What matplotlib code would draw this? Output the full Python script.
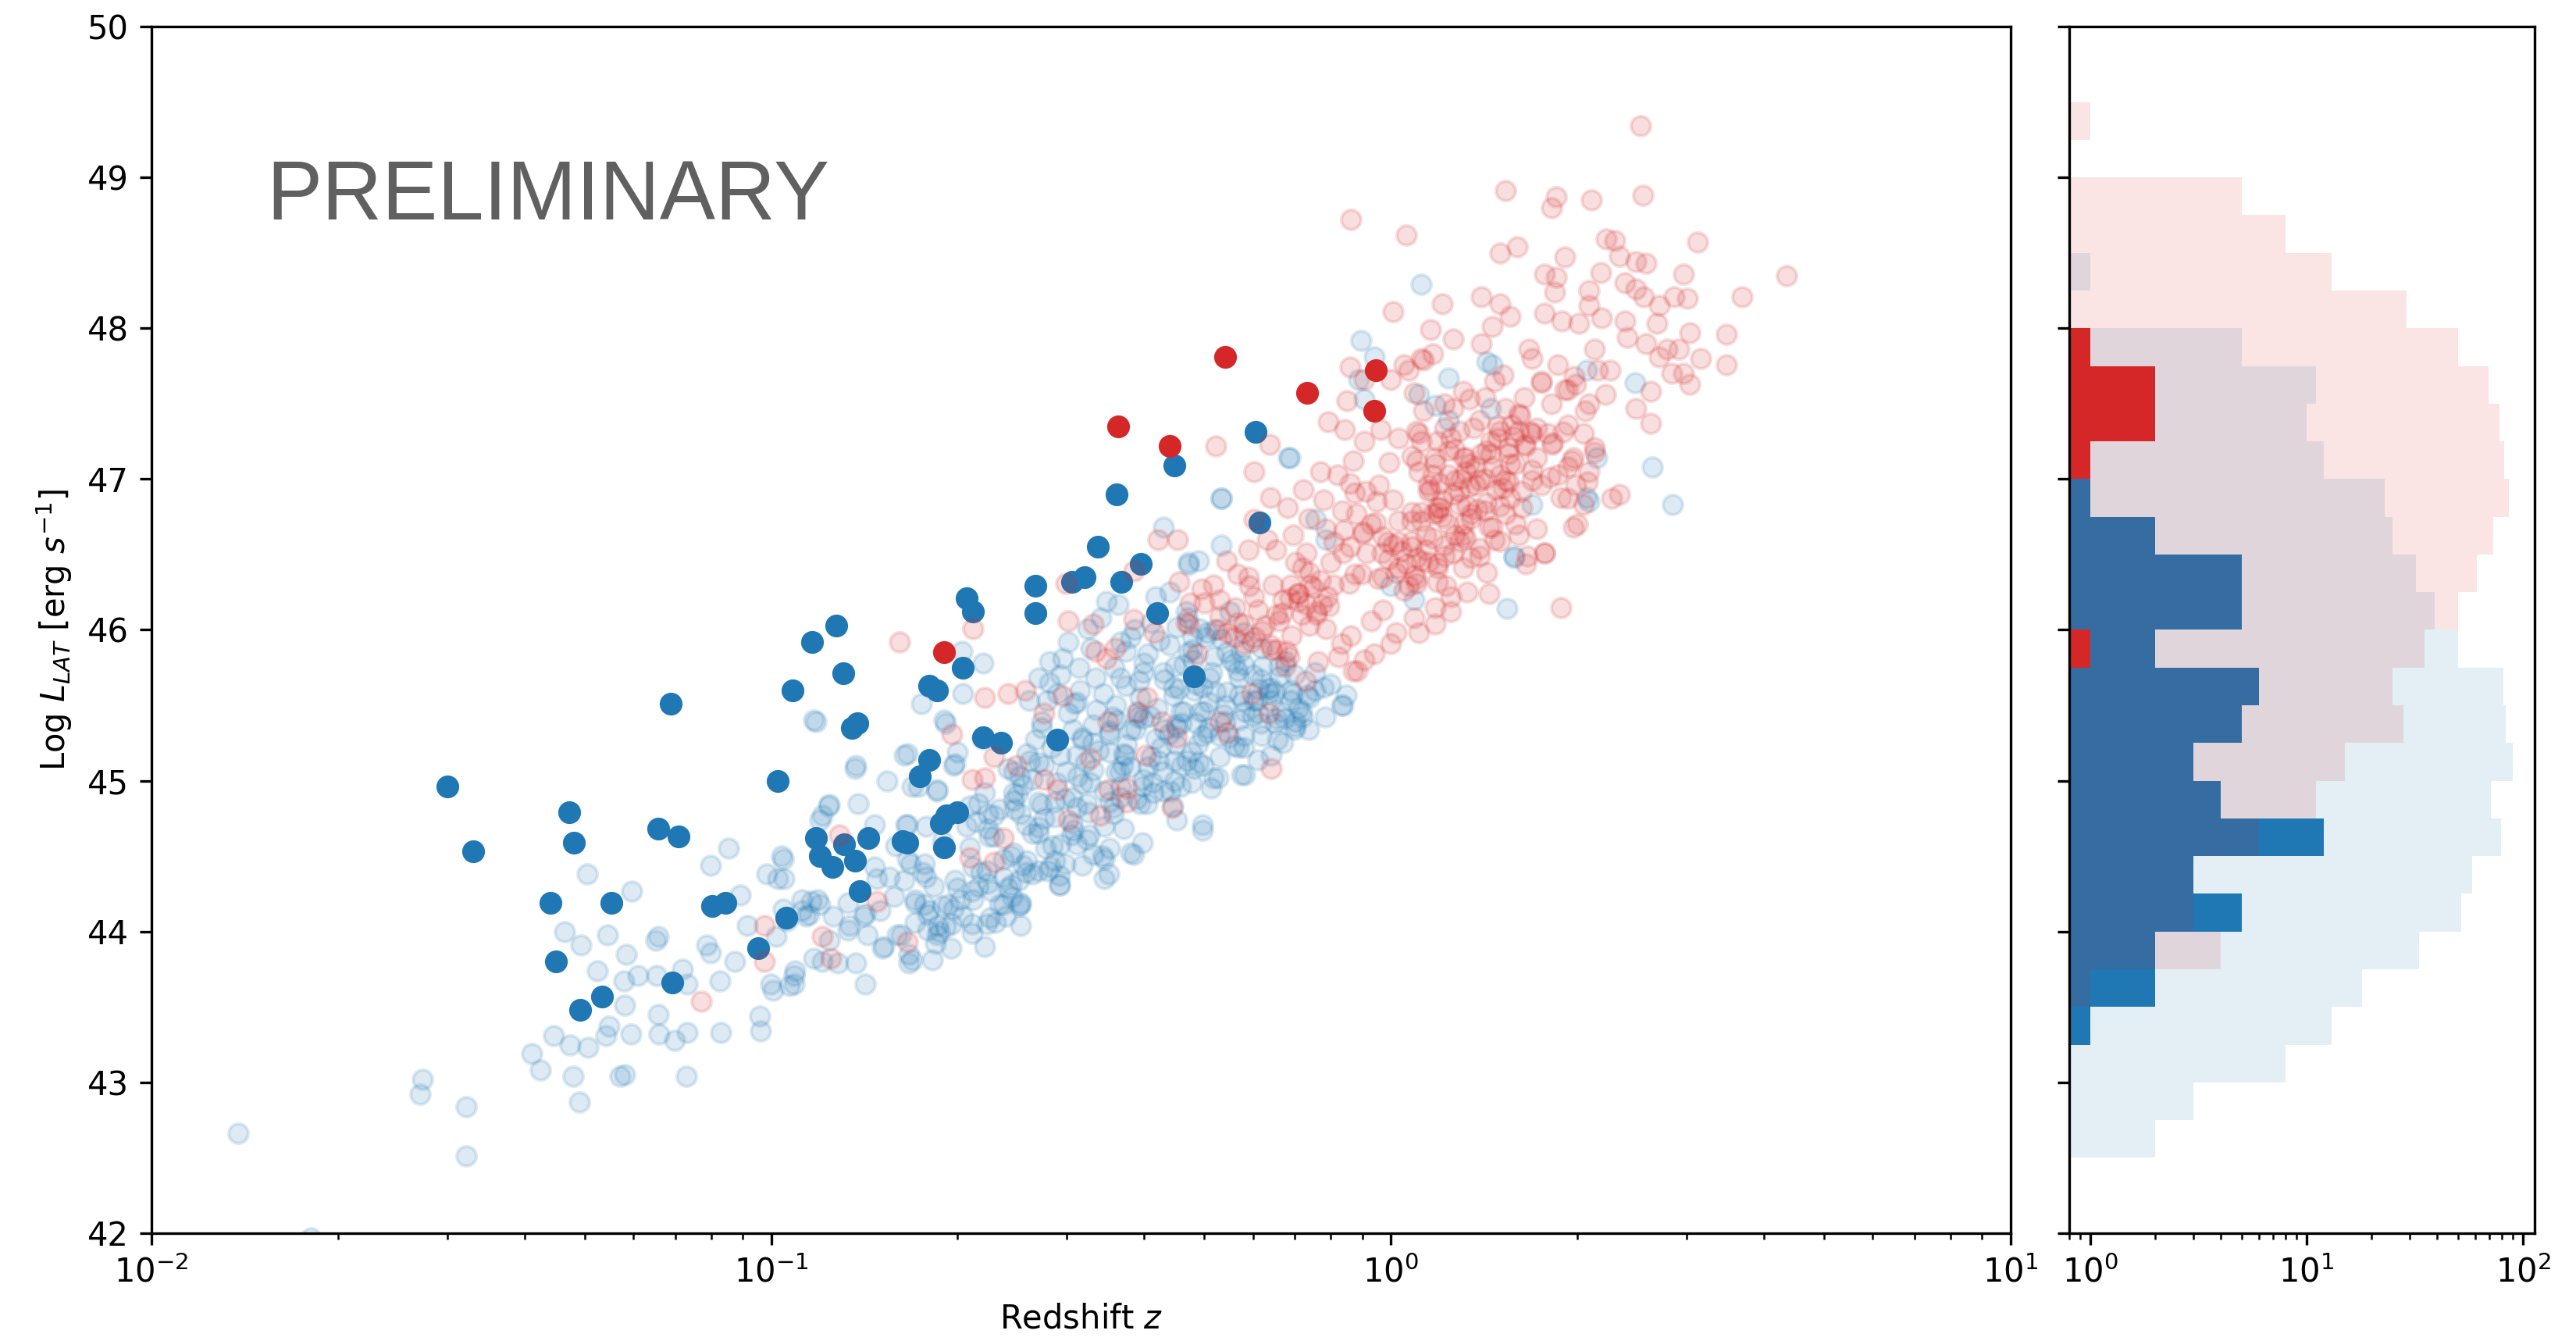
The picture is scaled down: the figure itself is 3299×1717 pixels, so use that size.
import numpy as np
import matplotlib
matplotlib.use('Agg')
import matplotlib.pyplot as plt

# ---- faint blue sample (redshift, log L) ----
fb_z = [
    0.0138, 0.0181, 0.0274, 0.0271, 0.0322, 0.0322, 0.0411, 0.0424, 0.0446, 0.0474,
    0.0479, 0.0491, 0.0507, 0.0464, 0.0494, 0.0505, 0.0525, 0.0541, 0.0547, 0.0545,
    0.0570, 0.0581, 0.0583, 0.0579, 0.0580, 0.0594, 0.0596, 0.0609, 0.0651, 0.0657,
    0.0654, 0.0657, 0.0660, 0.0698, 0.0720, 0.0731, 0.0733, 0.0729, 0.0799, 0.0853,
    0.0788, 0.0798, 0.0826, 0.0830, 0.0891, 0.0873, 0.0916, 0.0958, 0.0962, 0.0984,
    0.1025, 0.1045, 0.1047, 0.0998, 0.1008, 0.1018, 0.1094, 0.1088, 0.1138, 0.1160,
    0.1209, 0.1199, 0.1237, 0.1180, 0.1368, 0.1383,
    0.117, 0.137, 0.154, 0.164, 0.173, 0.185, 0.198, 0.191, 0.124, 0.121,
    0.147, 0.166, 0.104, 0.105, 0.112, 0.115, 0.120, 0.134, 0.142, 0.148,
    0.164, 0.177, 0.159, 0.189, 0.198, 0.202, 0.216, 0.211, 0.196, 0.189,
    0.179, 0.187, 0.162, 0.152, 0.142, 0.137, 0.128, 0.117, 0.109, 0.107,
    0.167, 0.177, 0.234, 0.237, 0.224, 0.250, 0.253, 0.216, 0.229, 0.209,
    0.270, 0.285, 0.298, 0.280, 0.292, 0.308, 0.264, 0.253, 0.244, 0.345,
    0.345, 0.385, 0.326, 0.357, 0.394, 0.430, 0.497, 0.497, 0.445, 0.481,
    0.526, 0.574, 0.642, 0.702, 0.710, 0.838, 0.847, 0.734, 0.568, 0.513,
    0.399, 0.371, 0.418, 0.447, 0.488, 0.541, 0.581, 0.655, 0.365, 0.327,
    0.306, 0.273, 0.262, 0.246, 0.284, 0.318, 0.356, 0.390, 0.446, 0.486,
    0.569, 0.635, 0.273, 0.219, 0.204, 0.261, 0.311, 0.366, 0.398,
    0.175, 0.190, 0.203, 0.220, 0.166, 0.197, 0.200, 0.185, 0.169, 0.165,
    0.178, 0.166, 0.176, 0.183, 0.171, 0.186, 0.167, 0.211, 0.211, 0.197,
    0.237, 0.251, 0.251, 0.237, 0.218, 0.209, 0.225, 0.214, 0.207, 0.234,
    0.246, 0.255, 0.241, 0.259, 0.267, 0.273, 0.279, 0.270, 0.281, 0.296,
    0.302, 0.324, 0.348, 0.363, 0.341, 0.417, 0.290, 0.302, 0.315, 0.334,
    0.358, 0.374, 0.405, 0.423, 0.449, 0.478, 0.502, 0.519, 0.551, 0.566,
    0.612, 0.622, 0.676, 0.695, 0.718, 0.699, 0.641, 0.598, 0.537, 0.509,
    0.463, 0.446, 0.409, 0.394, 0.361, 0.352, 0.331, 0.318, 0.307, 0.293,
    0.312, 0.322, 0.352, 0.375, 0.387, 0.426, 0.439, 0.477, 0.497, 0.529,
    0.559, 0.611, 0.581, 0.518, 0.498, 0.469, 0.429, 0.413, 0.381, 0.366,
    0.345, 0.318, 0.298, 0.289, 0.270, 0.287, 0.306, 0.325, 0.345, 0.357,
    0.389, 0.404, 0.441, 0.458, 0.451, 0.352, 0.323, 0.311, 0.287, 0.277,
    0.264, 0.255, 0.270, 0.292, 0.343, 0.351, 0.381, 0.371, 0.397, 0.245,
    0.253, 0.226,
    0.533, 0.684, 0.942, 1.54, 1.58, 2.07, 0.490, 0.472, 0.533, 0.506,
    0.472, 0.464, 0.544, 0.580, 0.618, 0.651, 0.690, 0.702, 0.834, 0.799,
    0.754, 0.602, 0.544, 0.493, 0.452, 1.00, 1.09, 1.18, 1.43, 1.45,
    0.906, 0.785, 0.756, 1.12, 2.48, 2.64, 2.85, 2.09, 1.69, 1.58,
    1.24, 1.11, 1.46, 2.07, 2.15, 1.24, 0.687, 0.532, 0.430, 0.471,
    0.895, 0.887,
    0.467, 0.491, 0.533, 0.573, 0.514, 0.481, 0.578, 0.634, 0.666, 0.737,
    0.784, 0.754, 0.458, 0.506,
    0.314, 0.328, 0.366, 0.386, 0.452, 0.479, 0.281, 0.293, 0.309, 0.335,
    0.344, 0.374, 0.393, 0.431, 0.455, 0.497, 0.522, 0.569, 0.608, 0.662,
    0.674, 0.657, 0.617, 0.579, 0.549, 0.509, 0.486, 0.450, 0.431, 0.398,
    0.381, 0.352, 0.338, 0.311, 0.299, 0.276, 0.270, 0.252, 0.247, 0.258,
    0.270, 0.293, 0.305, 0.331, 0.318, 0.292, 0.282, 0.259, 0.244, 0.223,
    0.227, 0.230, 0.221, 0.195, 0.184, 0.171, 0.331, 0.360, 0.373, 0.406,
    0.422, 0.459, 0.477, 0.448, 0.414, 0.397, 0.366, 0.352, 0.323, 0.311,
    0.287, 0.276,
    0.221, 0.246, 0.264, 0.224, 0.229, 0.246, 0.258, 0.212, 0.200, 0.212,
    0.224, 0.241, 0.253, 0.239, 0.223, 0.204, 0.191, 0.180, 0.185, 0.193,
    0.171, 0.178, 0.168, 0.155, 0.147, 0.158, 0.150, 0.141, 0.133, 0.126,
    0.119, 0.112, 0.106, 0.124, 0.133, 0.143, 0.151, 0.160, 0.169, 0.179,
    0.182,
    0.38, 0.41, 0.44, 0.47, 0.52, 0.55, 0.58, 0.62, 0.66, 0.70,
    0.40, 0.43, 0.48, 0.51, 0.56, 0.60, 0.64, 0.69, 0.74, 0.78,
    0.36, 0.39, 0.42, 0.46, 0.50, 0.54, 0.57, 0.61, 0.65, 0.72,
    0.33, 0.37, 0.41, 0.45, 0.49, 0.53, 0.58, 0.62, 0.67, 0.44,
]
fb_L = [
    42.66, 41.97, 43.02, 42.92, 42.84, 42.51, 43.19, 43.08, 43.31, 43.25,
    43.04, 42.87, 43.23, 44.00, 43.91, 44.38, 43.74, 43.31, 43.37, 43.98,
    43.04, 43.05, 43.85, 43.67, 43.51, 43.32, 44.27, 43.71, 43.94, 43.97,
    43.71, 43.45, 43.32, 43.28, 43.75, 43.65, 43.33, 43.04, 44.44, 44.55,
    43.91, 43.86, 43.67, 43.33, 44.24, 43.80, 44.04, 43.44, 43.34, 44.38,
    44.35, 44.48, 44.15, 43.65, 43.61, 43.97, 43.74, 43.65, 44.10, 44.20,
    43.80, 44.74, 44.83, 45.39, 45.08, 44.85,
    45.40, 45.10, 45.00, 45.17, 44.96, 44.93, 45.11, 45.38, 44.84, 44.77,
    44.71, 44.71, 44.50, 44.35, 44.21, 44.11, 44.18, 44.04, 44.12, 44.35,
    44.34, 44.45, 44.57, 44.60, 44.34, 44.21, 44.30, 44.05, 44.05, 44.17,
    44.11, 44.00, 43.98, 43.90, 43.65, 43.79, 43.79, 43.82, 43.71, 43.64,
    43.79, 44.18, 44.18, 44.48, 44.68, 44.91, 44.78, 44.85, 44.77, 44.83,
    44.65, 44.57, 44.45, 44.40, 44.31, 44.67, 44.38, 44.18, 44.31, 44.48,
    44.35, 44.51, 44.64, 44.78, 44.85, 44.93, 44.71, 44.67, 44.83, 45.08,
    45.02, 45.04, 45.17, 45.36, 45.48, 45.50, 45.57, 45.57, 45.22, 44.95,
    45.01, 45.18, 45.28, 45.13, 45.24, 45.39, 45.46, 45.41, 45.06, 44.99,
    44.89, 44.84, 45.13, 45.06, 45.22, 45.29, 45.42, 45.46, 45.62, 45.64,
    45.68, 45.58, 45.35, 45.28, 45.58, 45.53, 45.52, 45.68, 45.72,
    45.51, 45.40, 45.86, 45.78, 45.18, 45.10, 45.19, 44.94, 44.96, 44.71,
    44.70, 44.48, 44.39, 44.30, 44.19, 44.04, 43.85, 43.99, 44.27, 44.15,
    44.18, 44.17, 44.34, 44.36, 44.39, 44.56, 44.63, 44.73, 44.70, 44.81,
    44.92, 44.97, 45.08, 45.18, 45.27, 45.39, 45.53, 45.68, 45.79, 45.81,
    45.92, 46.01, 46.19, 46.17, 46.08, 46.22, 45.58, 45.45, 45.60, 45.68,
    45.75, 45.86, 45.84, 45.93, 45.76, 45.87, 45.95, 45.82, 45.80, 45.73,
    45.61, 45.76, 45.79, 45.58, 45.46, 45.34, 45.53, 45.43, 45.44, 45.52,
    45.46, 45.56, 45.43, 45.55, 45.40, 45.33, 45.37, 45.27, 45.34, 45.17,
    45.03, 45.12, 45.19, 45.24, 45.34, 45.22, 45.31, 45.19, 45.30, 45.16,
    45.23, 45.14, 45.04, 45.02, 45.10, 45.13, 45.06, 44.99, 45.09, 44.96,
    44.93, 44.98, 44.88, 44.99, 44.86, 44.76, 44.72, 44.79, 44.70, 44.82,
    44.88, 44.85, 44.93, 44.96, 44.74, 44.55, 44.61, 44.58, 44.47, 44.55,
    44.65, 44.44, 44.40, 44.31, 44.50, 44.38, 44.52, 44.68, 44.59, 44.23,
    44.04, 44.09,
    46.87, 47.14, 47.81, 46.14, 46.48, 46.88, 46.46, 46.43, 46.56, 45.98,
    45.85, 45.77, 45.85, 45.77, 45.67, 45.59, 45.53, 45.39, 45.50, 45.64,
    45.72, 45.53, 45.59, 45.46, 45.35, 46.29, 46.20, 47.49, 47.78, 47.47,
    47.53, 46.60, 46.73, 48.29, 47.64, 47.08, 46.83, 46.85, 46.83, 46.49,
    47.67, 47.56, 47.76, 47.72, 47.14, 47.39, 47.14, 46.87, 46.68, 46.45,
    47.92, 47.66,
    46.12, 46.01, 45.94, 45.86, 45.72, 45.60, 45.53, 45.61, 45.46, 45.34,
    45.42, 45.60, 45.46, 45.32,
    45.75, 45.88, 45.92, 46.00, 46.02, 45.95, 45.65, 45.70, 45.51, 45.47,
    45.58, 45.63, 45.66, 45.67, 45.61, 45.62, 45.59, 45.57, 45.53, 45.69,
    45.41, 45.27, 45.38, 45.30, 45.29, 45.35, 45.38, 45.37, 45.34, 45.41,
    45.34, 45.31, 45.20, 45.17, 45.06, 45.10, 45.12, 45.03, 44.81, 44.71,
    44.69, 44.58, 44.64, 44.51, 44.44, 44.37, 44.43, 44.47, 44.50, 44.40,
    44.27, 44.06, 43.90, 43.89, 43.92, 44.06, 45.07, 45.06, 45.17, 45.09,
    45.13, 45.10, 44.99, 45.00, 44.92, 44.96, 44.89, 44.86, 44.85, 44.82,
    44.86, 44.75,
    44.92, 44.87, 45.01, 44.78, 44.63, 44.52, 44.39, 44.43, 44.29, 44.21,
    44.32, 44.29, 44.19, 44.10, 44.05, 44.10, 44.03, 44.14, 43.98, 44.18,
    44.21, 44.36, 44.45, 44.36, 44.43, 44.23, 44.14, 44.10, 44.19, 44.10,
    44.21, 44.14, 44.07, 43.94, 44.01, 43.98, 43.89, 43.98, 43.81, 44.01,
    43.81,
    45.95, 46.05, 45.90, 46.08, 46.00, 46.12, 45.98, 45.88, 45.76, 45.70,
    45.78, 45.72, 45.80, 45.68, 45.78, 45.70, 45.62, 45.60, 45.55, 45.62,
    45.50, 45.42, 45.48, 45.38, 45.46, 45.50, 45.40, 45.45, 45.38, 45.42,
    45.25, 45.10, 45.16, 45.24, 45.12, 45.30, 45.22, 45.30, 45.25, 46.25,
]

# ---- faint red sample ----
fr_z = [
    0.161, 0.212, 0.302, 0.331, 0.385, 0.468, 0.415, 0.359, 0.334, 0.348,
    0.221, 0.241, 0.257, 0.276, 0.296, 0.196, 0.229, 0.211, 0.221, 0.249,
    0.276, 0.290, 0.302, 0.327, 0.350, 0.389, 0.404, 0.427, 0.452, 0.529,
    0.545, 0.597, 0.635, 0.568, 0.545, 0.604, 0.655, 0.686, 0.710, 0.668,
    0.739, 0.641, 0.444, 0.351, 0.375, 0.340, 0.237, 0.229, 0.209, 0.166,
    0.375, 0.402,
    0.522, 0.602, 0.637, 0.453, 0.455, 0.496, 0.518, 0.472, 0.561, 0.602,
    0.544, 0.590, 0.633, 0.639, 0.602, 0.681, 0.723, 0.769, 0.793, 0.843,
    0.859, 0.906, 0.851, 1.00, 1.05, 1.13, 1.09, 0.962, 0.906, 0.869,
    0.822, 0.779, 0.836, 0.874, 0.958, 0.993, 1.08, 1.11, 1.22, 1.26,
    1.34, 1.47, 1.52, 1.69, 1.75, 1.91, 1.98, 2.16, 2.06, 1.90,
    1.83, 1.68, 1.62, 1.49, 1.43, 1.31, 1.27, 1.16, 1.12, 1.03,
    0.988, 0.915, 0.876, 0.809, 0.774, 0.718, 0.688, 0.645, 0.701, 0.731,
    0.955, 1.03, 1.08, 1.17, 1.21, 1.33, 1.37, 1.50, 1.55, 1.69,
    1.63, 1.50, 1.44, 1.32, 1.26, 1.19, 1.10, 1.05, 0.972, 0.931,
    0.862, 0.823, 0.764, 0.728, 0.676, 0.644, 0.597, 0.526, 0.487, 0.882,
    0.942, 1.02, 1.09, 1.18, 1.25, 1.44, 1.66, 1.77, 2.00, 1.88,
    1.81, 1.96, 2.08, 2.13, 1.25, 1.88, 1.18,
    1.53, 1.85, 1.82, 2.11, 2.55, 1.06, 1.50, 1.60, 1.91, 2.23,
    2.30, 3.13, 4.35, 1.77, 1.85, 1.84, 2.18, 2.34, 2.49, 2.58,
    2.39, 2.97, 3.69, 1.21, 1.40, 1.50, 1.77, 2.09, 2.09, 2.19,
    2.49, 2.56, 2.71, 2.87, 3.01, 3.04, 3.16, 3.48, 3.48, 2.97,
    3.04, 2.79, 2.69, 2.92, 2.39, 2.41, 2.58, 2.71, 2.84, 2.63,
    2.63, 2.49, 2.34, 2.27, 1.97, 1.93, 1.77, 1.65, 1.16, 1.26,
    1.17, 1.12, 1.07, 1.40, 1.46, 1.56, 1.67, 1.89, 2.01, 2.13,
    2.26, 2.22, 2.09, 1.99, 1.86, 1.75, 1.64, 1.53, 1.42, 1.31,
    1.22, 1.13, 1.10, 1.19, 1.29, 1.39, 1.50, 1.61, 1.72, 1.79,
    1.93, 2.05, 2.13, 1.97, 1.86, 1.69, 1.56, 1.45, 1.34, 1.24,
    1.15, 1.08, 1.19, 1.31, 1.42, 1.56, 1.59, 1.50, 1.39, 1.29,
    1.19, 1.10, 1.75, 2.05,
    2.53, 0.863, 1.01, 0.299, 0.421, 0.385, 0.0977, 0.0977, 0.0772, 0.871,
    0.129, 0.148, 0.121, 0.125,
    1.12, 1.18, 1.25, 1.32, 1.39, 1.46, 1.55, 1.59, 1.29, 1.20,
    1.12, 1.35, 1.46, 1.31, 1.22, 1.15, 1.35, 1.43, 1.08, 1.10,
    1.19, 1.53, 1.61, 1.53, 1.64, 1.72, 1.82, 1.93, 1.99, 2.09,
    1.82, 1.93, 1.69, 1.61,
    1.03, 1.10, 1.17, 1.24, 1.32, 1.40, 1.49, 1.57, 1.36, 1.19,
    1.27, 1.35, 1.43, 1.52, 1.63, 1.72, 1.47, 1.39, 1.31, 1.22,
    1.14, 1.08, 1.01, 0.947, 0.903, 0.838, 0.799, 0.741, 0.708, 0.655,
    0.627, 0.579, 0.691, 0.758, 0.794, 0.858, 0.899, 0.969, 1.03, 1.23,
    1.33, 1.11, 1.00, 0.905, 0.833, 0.785, 0.653, 0.695, 0.738, 0.785,
    0.566, 0.592, 0.530, 0.475,
    1.21, 1.26, 1.29, 1.17, 1.34, 1.24, 1.38, 1.15, 1.30, 1.20,
    0.71, 0.75, 0.73, 0.77, 0.69, 0.74, 0.79, 0.67, 0.72, 0.76,
    1.02, 1.06, 1.09, 0.99, 1.04, 1.12, 0.97, 1.07, 1.01, 1.14,
    0.86, 0.90, 0.93, 0.88, 0.95, 0.84, 0.81, 0.97, 0.91, 0.86,
    1.42, 1.48, 1.55, 1.37, 1.45, 1.58, 1.65, 1.27, 1.18, 1.11,
    0.62, 0.66, 0.58, 0.64, 0.56, 0.61, 0.53, 0.50, 0.68, 0.59,
]
fr_L = [
    45.92, 46.01, 46.06, 46.04, 46.07, 46.05, 45.98, 45.88, 45.86, 45.81,
    45.55, 45.58, 45.60, 45.45, 45.56, 45.31, 45.16, 45.01, 45.02, 45.10,
    45.01, 44.94, 44.74, 45.15, 45.39, 45.45, 45.55, 45.39, 45.29, 45.39,
    45.32, 45.58, 45.45, 46.05, 45.98, 45.95, 45.87, 45.82, 46.19, 46.11,
    46.03, 45.08, 44.82, 44.94, 44.86, 44.77, 44.62, 44.46, 44.49, 43.93,
    44.95, 45.17,
    47.22, 47.05, 47.23, 46.60, 46.32, 46.27, 46.30, 46.04, 46.15, 46.22,
    46.46, 46.53, 46.60, 46.88, 46.73, 46.81, 46.93, 47.05, 47.38, 47.33,
    47.74, 47.66, 47.52, 47.66, 47.76, 47.79, 47.57, 47.33, 47.25, 47.12,
    47.03, 46.86, 46.79, 46.91, 46.96, 47.11, 47.15, 47.30, 47.34, 47.47,
    47.53, 47.65, 47.69, 47.80, 47.64, 47.59, 47.68, 47.72, 47.45, 47.31,
    47.24, 47.31, 47.42, 47.35, 47.19, 47.14, 46.99, 46.93, 46.78, 46.72,
    46.58, 46.51, 46.37, 46.30, 46.17, 46.10, 46.21, 46.30, 46.45, 46.51,
    46.34, 46.41, 46.55, 46.61, 46.75, 46.82, 46.96, 47.03, 47.17, 47.06,
    46.92, 46.82, 46.68, 46.61, 46.51, 46.44, 46.31, 46.26, 46.13, 46.06,
    45.96, 45.82, 45.79, 45.66, 45.76, 45.87, 45.92, 46.00, 45.84, 45.73,
    45.84, 45.98, 46.08, 46.15, 46.22, 46.24, 46.49, 46.51, 46.70, 46.88,
    47.01, 47.12, 46.98, 47.18, 46.12, 46.15, 46.04,
    48.91, 48.87, 48.80, 48.85, 48.88, 48.62, 48.50, 48.54, 48.47, 48.59,
    48.58, 48.57, 48.35, 48.36, 48.34, 48.24, 48.37, 48.48, 48.44, 48.43,
    48.30, 48.36, 48.21, 48.16, 48.21, 48.16, 48.10, 48.25, 48.15, 48.07,
    48.26, 48.21, 48.15, 48.21, 48.20, 47.97, 47.80, 47.96, 47.76, 47.70,
    47.63, 47.86, 48.03, 47.86, 48.05, 47.94, 47.90, 47.81, 47.70, 47.58,
    47.37, 47.47, 46.90, 46.87, 46.68, 46.87, 46.51, 46.44, 47.99, 47.93,
    47.83, 47.80, 47.72, 47.90, 48.01, 48.08, 47.86, 48.05, 48.03, 47.86,
    47.72, 47.56, 47.50, 47.63, 47.76, 47.65, 47.54, 47.47, 47.54, 47.58,
    47.50, 47.45, 47.32, 47.25, 47.32, 47.39, 47.32, 47.43, 47.34, 47.30,
    47.36, 47.30, 47.21, 47.14, 47.03, 46.99, 47.10, 47.17, 47.10, 47.03,
    46.96, 46.78, 46.78, 46.70, 46.79, 46.87, 46.70, 46.59, 46.54, 46.59,
    46.41, 46.48, 46.96, 46.83,
    49.34, 48.72, 48.11, 46.31, 46.60, 46.39, 44.04, 43.80, 43.54, 45.73,
    44.64, 44.20, 43.97, 43.82,
    47.25, 47.10, 47.27, 47.14, 46.99, 47.08, 47.21, 47.10, 46.92, 46.81,
    46.72, 46.77, 46.68, 46.63, 46.56, 46.45, 46.48, 46.38, 46.59, 46.34,
    46.32, 46.77, 46.63, 46.99, 47.23, 47.14, 47.23, 47.08, 46.96, 47.05,
    47.50, 47.59, 47.30, 47.32,
    47.27, 47.12, 47.03, 47.19, 47.05, 47.17, 47.27, 47.36, 47.34, 46.81,
    46.63, 46.74, 46.84, 46.94, 46.81, 46.67, 46.60, 46.49, 46.41, 46.49,
    46.63, 46.72, 46.86, 46.71, 46.65, 46.51, 46.45, 46.30, 46.24, 46.10,
    46.03, 45.91, 45.96, 46.10, 46.16, 46.31, 46.37, 46.51, 46.58, 46.29,
    46.25, 45.98, 45.91, 45.80, 45.91, 46.01, 46.53, 46.63, 46.74, 46.67,
    46.37, 46.29, 46.20, 46.18,
    46.86, 46.90, 46.83, 46.77, 46.95, 46.70, 46.80, 46.92, 47.00, 46.97,
    46.24, 46.28, 46.17, 46.33, 46.30, 46.38, 46.22, 46.20, 46.41, 46.12,
    46.38, 46.44, 46.36, 46.47, 46.52, 46.46, 46.35, 46.29, 46.56, 46.53,
    46.55, 46.64, 46.70, 46.77, 46.85, 46.66, 46.58, 46.62, 46.92, 46.97,
    47.00, 46.93, 46.98, 47.08, 47.25, 47.28, 47.22, 47.20, 47.14, 47.05,
    45.99, 46.06, 46.04, 45.90, 45.95, 46.13, 46.09, 46.18, 45.86, 46.35,
]

# ---- highlighted sources ----
sb_z = [0.030, 0.0331, 0.0441, 0.0472, 0.0481, 0.0450, 0.0492, 0.0533, 0.0553, 0.0657,
        0.0689, 0.0710, 0.0693, 0.0803, 0.0843, 0.0953, 0.1057, 0.1026, 0.1083, 0.1164,
        0.1276, 0.1308, 0.118, 0.120, 0.1254, 0.131, 0.1366, 0.1434, 0.139, 0.135,
        0.138, 0.163, 0.166, 0.174, 0.180, 0.180, 0.185, 0.188, 0.192, 0.190,
        0.1995, 0.204, 0.207, 0.212, 0.220, 0.235, 0.267, 0.267, 0.290, 0.306,
        0.321, 0.337, 0.361, 0.367, 0.395, 0.420, 0.447, 0.481, 0.606, 0.614]
sb_L = [44.96, 44.53, 44.19, 44.79, 44.59, 43.80, 43.48, 43.57, 44.19, 44.68,
        45.51, 44.63, 43.66, 44.17, 44.19, 43.89, 44.09, 45.00, 45.60, 45.92,
        46.03, 45.71, 44.62, 44.50, 44.43, 44.58, 44.47, 44.62, 44.27, 45.35,
        45.38, 44.60, 44.59, 45.03, 45.14, 45.63, 45.60, 44.72, 44.77, 44.56,
        44.79, 45.75, 46.21, 46.12, 45.29, 45.25, 46.29, 46.11, 45.27, 46.32,
        46.35, 46.55, 46.90, 46.32, 46.44, 46.11, 47.09, 45.69, 47.31, 46.71]

sr_z = [0.19, 0.363, 0.44, 0.54, 0.733, 0.945, 0.942]
sr_L = [45.85, 47.35, 47.22, 47.81, 47.57, 47.72, 47.45]

# luminosity distribution of the full samples, 0.25 dex bins from 42 to 50
lum_edges = np.arange(42.0, 50.01, 0.25)
fb_counts = [0, 0, 2, 3, 8, 13, 18, 33, 52, 58, 79, 71, 90, 83, 81, 50,
             39, 32, 25, 23, 12, 10, 11, 5, 0, 1, 0, 0, 0, 0, 0, 0]
fr_counts = [0, 0, 0, 0, 0, 0, 1, 4, 3, 3, 6, 11, 15, 28, 25, 35,
             50, 61, 73, 86, 82, 78, 69, 50, 29, 13, 8, 5, 0, 1, 0, 0]

fig = plt.figure(figsize=(3299 / 300, 1717 / 300), dpi=300)
ax = fig.add_axes([0.0588, 0.0804, 0.7216, 0.8998])
axh = fig.add_axes([0.8033, 0.0804, 0.1806, 0.8998], sharey=ax)

ax.scatter(fb_z, fb_L, color='tab:blue', alpha=0.15)
ax.scatter(sb_z, sb_L, color='tab:blue')
ax.scatter(sr_z, sr_L, color='tab:red')
ax.scatter(fr_z, fr_L, color='tab:red', alpha=0.15)

ax.set_xscale('log')
ax.set_xlim(1e-2, 1e1)
ax.set_ylim(42, 50)
ax.set_xlabel('Redshift $z$')
ax.set_ylabel(r'Log $L_{LAT}$ [erg $s^{-1}$]')
ax.text(0.062, 0.840, 'PRELIMINARY', transform=ax.transAxes, fontsize=25.6,
        color='#606060', family='Liberation Sans', va='baseline')

centers = lum_edges[:-1] + 0.125
axh.hist(centers, bins=lum_edges, weights=fb_counts, orientation='horizontal',
         histtype='stepfilled', color='tab:blue', alpha=0.12, log=True)
axh.hist(sb_L, bins=lum_edges, orientation='horizontal',
         histtype='stepfilled', color='tab:blue', log=True)
axh.hist(sr_L, bins=lum_edges, orientation='horizontal',
         histtype='stepfilled', color='tab:red', log=True)
axh.hist(centers, bins=lum_edges, weights=fr_counts, orientation='horizontal',
         histtype='stepfilled', color='tab:red', alpha=0.12, log=True)
axh.set_xlim(0.8, 113)
axh.set_ylim(42, 50)
axh.tick_params(labelleft=False)

fig.savefig('out.png', dpi=300)
